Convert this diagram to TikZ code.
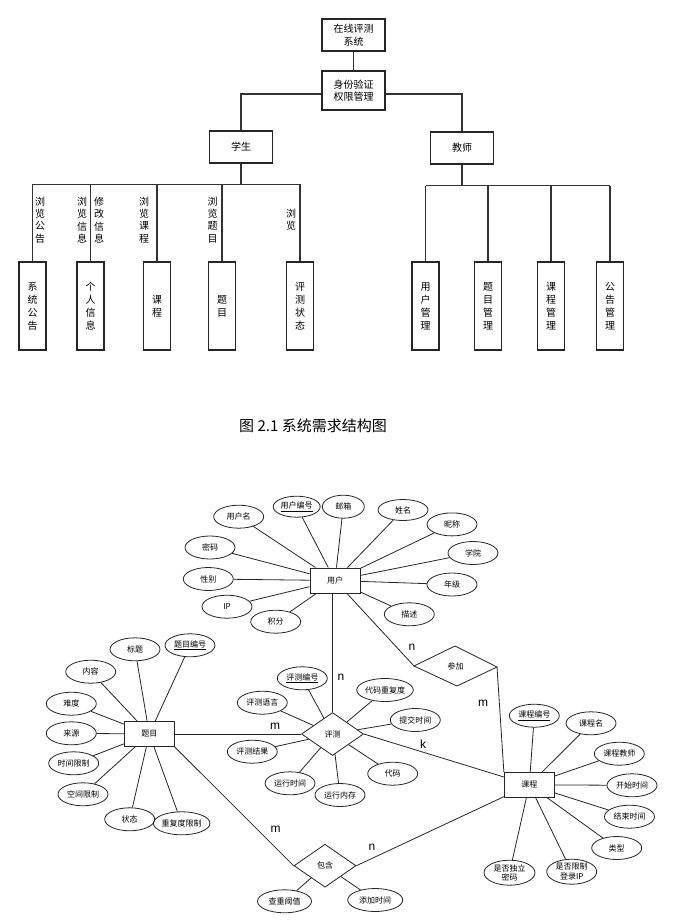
\documentclass[tikz,border=0pt]{standalone}
\usepackage{fontspec}
\setmainfont{Noto Sans CJK SC}
\newfontfamily\latinsans{Liberation Sans}
\usetikzlibrary{shapes.geometric}
\begin{document}
\begin{tikzpicture}[x=1pt,y=-1pt,
  tbox/.style={draw=black!85, line width=1.3pt, minimum width=63, minimum height=32, inner sep=0, font=\fontsize{10}{12.5}\selectfont, align=center},
  leaf/.style={draw=black!85, line width=1.3pt, minimum width=27, minimum height=88, inner sep=0, font=\fontsize{10}{13}\selectfont, align=center},
  vlab/.style={inner sep=0, font=\fontsize{10}{12.3}\selectfont, align=center},
  tline/.style={line width=1.2pt, draw=black!80},
  ent/.style={draw=black!85, line width=0.9pt, minimum width=50, minimum height=25, inner sep=0, font=\fontsize{8}{9}\selectfont},
  attr/.style={ellipse, draw=black!85, line width=0.8pt, minimum width=50, minimum height=23, inner sep=0, font=\fontsize{8}{9.5}\selectfont, align=center},
  rel/.style={diamond, draw=black!85, line width=0.8pt, minimum width=62, minimum height=43, inner sep=0, font=\fontsize{8}{9}\selectfont},
  eline/.style={line width=0.8pt, draw=black!85},
  card/.style={font=\latinsans\fontsize{12}{12}\selectfont, inner sep=0}
]
\useasboundingbox (0,0) rectangle (677,923);
\fill[white] (0,0) rectangle (677,923);

% ---------- structure chart ----------
\node[tbox] (root) at (353.5,35) {在线评测\\系统};
\node[tbox, minimum height=39] (auth) at (353.5,90.5) {身份验证\\权限管理};
\node[tbox] (stu) at (241,147) {学生};
\node[tbox] (tea) at (462,148) {教师};

\draw[tline] (root) -- (auth);
\draw[tline] ([yshift=-3.5pt]auth.west) -| (stu.north);
\draw[tline] ([yshift=-3.5pt]auth.east) -| (tea.north);

\node[leaf] (s1) at (32.5,306) {系\\统\\公\\告};
\node[leaf] (s2) at (90.5,306) {个\\人\\信\\息};
\node[leaf] (s3) at (157,306) {课\\程};
\node[leaf] (s4) at (222,306) {题\\目};
\node[leaf] (s5) at (300,306) {评\\测\\状\\态};

\node[leaf] (t1) at (425.5,306) {用\\户\\管\\理};
\node[leaf] (t2) at (488,306) {题\\目\\管\\理};
\node[leaf] (t3) at (551,306) {课\\程\\管\\理};
\node[leaf] (t4) at (610,306) {公\\告\\管\\理};

\coordinate (sb) at (241,184.3);
\coordinate (tb) at (462,185.7);
\draw[tline] (stu) -- (sb);
\draw[tline] (s1.north |- sb) -- (s5.north |- sb);
\foreach \n in {s1,s2,s3,s4,s5} \draw[tline] (\n.north |- sb) -- (\n.north);
\draw[tline] (tea) -- (tb);
\draw[tline] (t1.north |- tb) -- (t4.north |- tb);
\foreach \n in {t1,t2,t3,t4} \draw[tline] (\n.north |- tb) -- (\n.north);

\node[vlab] (l1) at (40,220) {浏\\览\\公\\告};
\node[vlab] (l2) at (82,220) {浏\\览\\信\\息};
\node[vlab] (l3) at (99,220) {修\\改\\信\\息};
\node[vlab] (l4) at (144,220) {浏\\览\\课\\程};
\node[vlab] (l5) at (212.5,220) {浏\\览\\题\\目};
\node[vlab] (l6) at (291,219.5) {浏\\览};

\node[font=\fontsize{15}{15}\selectfont, inner sep=0] (cap) at (313,426) {图 2.1 系统需求结构图};

% ---------- ER diagram ----------
\node[ent] (user) at (335,580.5) {用户};
\node[ent] (timu) at (149.3,734) {题目};
\node[ent] (course) at (529.3,784.8) {课程};
\node[rel] (pingce) at (332.5,734) {评测};
\node[rel] (baohan) at (325,865.7) {包含};

\coordinate (cjL) at (414,666);
\coordinate (cjT) at (455,646);
\coordinate (cjR) at (497,667);
\coordinate (cjB) at (457,686);
\draw[eline] (cjL) -- (cjT) -- (cjR) -- (cjB) -- cycle;
\node[font=\fontsize{8}{9}\selectfont, inner sep=0] (canjia) at (455.5,666) {参加};

% user attributes
\node[attr] (u1) at (238.7,516.7) {用户名};
\node[attr, minimum width=47, minimum height=21] (u2) at (296.7,506.7) {\underline{用户编号}};
\node[attr, minimum width=42] (u3) at (343.3,506.7) {邮箱};
\node[attr, minimum height=21] (u4) at (403,510) {姓名};
\node[attr] (u5) at (452,524.4) {昵称};
\node[attr] (u6) at (473,553) {学院};
\node[attr] (u7) at (452,584.5) {年级};
\node[attr] (u8) at (409.3,614.3) {描述};
\node[attr] (u9) at (275.7,621.7) {积分};
\node[attr] (u10) at (227,606.7) {IP};
\node[attr] (u11) at (208.3,579) {性别};
\node[attr] (u12) at (210,547.5) {密码};
\foreach \a in {u1,u2,u3,u4,u5,u6,u7,u8,u9,u10,u11,u12} \draw[eline] (\a) -- (user);

% timu attributes
\node[attr] (q1) at (135,649.3) {标题};
\node[attr] (q2) at (190,645.3) {\underline{题目编号}};
\node[attr] (q3) at (90.7,671.7) {内容};
\node[attr] (q4) at (71.3,703.7) {难度};
\node[attr] (q5) at (71.3,733.3) {来源};
\node[attr] (q6) at (73.7,763.3) {时间限制};
\node[attr] (q7) at (83,794.3) {空间限制};
\node[attr] (q8) at (129.7,819.3) {状态};
\node[attr, minimum width=53] (q9) at (181.7,823.3) {重复度限制};
\foreach \a in {q1,q2,q3,q4,q5,q6,q7,q8,q9} \draw[eline] (\a) -- (timu);

% pingce attributes
\node[attr] (p1) at (302.3,678.3) {\underline{评测编号}};
\node[attr] (p2) at (262.3,702.7) {评测语言};
\node[attr] (p3) at (252.3,751.7) {评测结果};
\node[attr] (p4) at (290,783.3) {运行时间};
\node[attr] (p5) at (340,795) {运行内存};
\node[attr] (p6) at (392.7,773.7) {代码};
\node[attr] (p7) at (415.3,720) {提交时间};
\node[attr, minimum width=55] (p8) at (385,690) {代码重复度};
\foreach \a in {p1,p2,p3,p4,p5,p6,p7,p8} \draw[eline] (\a) -- (pingce);

% course attributes
\node[attr] (c1) at (534.3,715.7) {\underline{课程编号}};
\node[attr] (c2) at (591,723.3) {课程名};
\node[attr] (c3) at (619.3,753.7) {课程教师};
\node[attr] (c4) at (632,785.3) {开始时间};
\node[attr] (c5) at (629.5,816.7) {结束时间};
\node[attr] (c6) at (616.7,848) {类型};
\node[attr, minimum height=25] (c7) at (571.7,871.7) {是否限制\\登录IP};
\node[attr, minimum height=25, minimum width=51] (c8) at (509.5,872.7) {是否独立\\密码};
\foreach \a in {c1,c2,c3,c4,c5,c6,c7,c8} \draw[eline] (\a) -- (course);

% baohan attributes
\node[attr, minimum width=54] (b1) at (284.5,901.3) {查重阈值};
\node[attr, minimum width=55] (b2) at (375.2,900) {添加时间};
\foreach \a in {b1,b2} \draw[eline] (\a) -- (baohan);

% relationships
\draw[eline] (pingce.north |- user.south) -- (pingce.north);
\draw[eline] (timu) -- (pingce.west);
\draw[eline] (pingce.east) -- (course);
\draw[eline] (timu.south east) -- (baohan.west);
\draw[eline] (baohan.east) -- (course);
\draw[eline] (user) -- (cjL);
\draw[eline] (cjR) -- (course.north west);

\node[card] (n1) at (341,677) {n};
\node[card] (n2) at (412,647) {n};
\node[card] (m1) at (483,703) {m};
\node[card] (m2) at (275,726) {m};
\node[card] (k1) at (423,744) {k};
\node[card] (m3) at (275.5,829) {m};
\node[card] (n3) at (372,847) {n};
\end{tikzpicture}
\end{document}
